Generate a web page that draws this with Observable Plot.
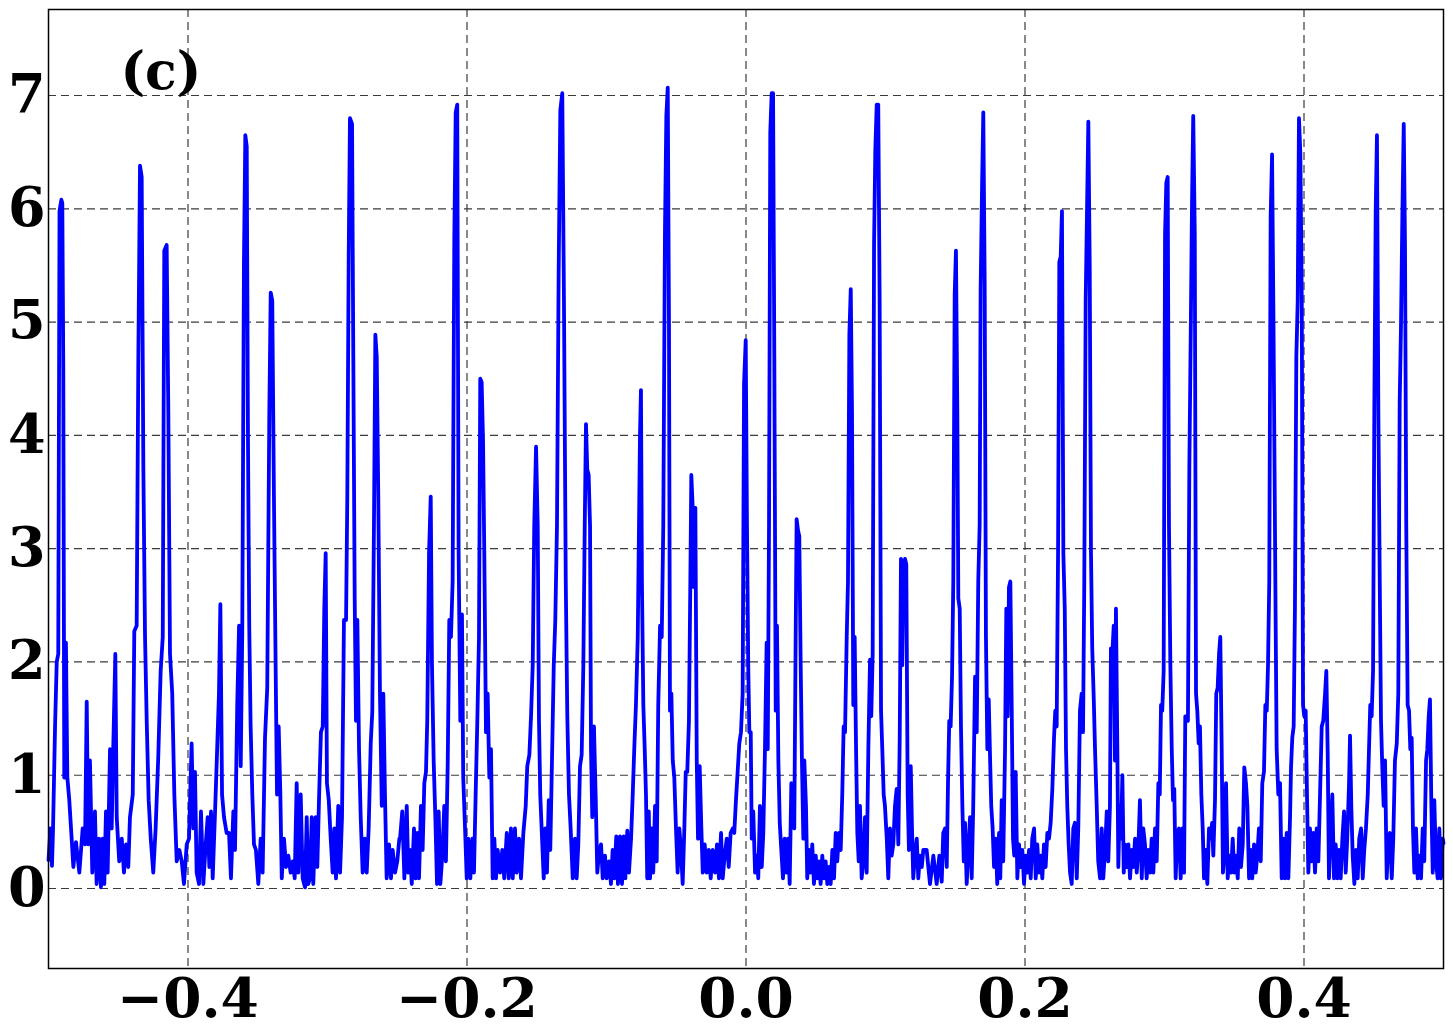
<!DOCTYPE html>
<html>
<head>
<meta charset="utf-8">
<script src="https://cdn.jsdelivr.net/npm/d3@7"></script>
<script src="https://cdn.jsdelivr.net/npm/@observablehq/plot@0.6"></script>
<style>
  html, body { margin: 0; padding: 0; background: #ffffff; }
  #chart { width: 1453px; height: 1027px; }
</style>
</head>
<body>
<div id="chart"></div>
<script>
// ---------- DATA ----------
const xTicks = [-0.4, -0.2, 0.0, 0.2, 0.4];
const yTicks = [0, 1, 2, 3, 4, 5, 6, 7];
const panelLabel = "(c)";

// signal samples [x, y], left to right
const segA = [
  [-0.5000,0.25],[-0.4986,0.53],[-0.4975,0.20],[-0.4968,0.50],[-0.4953,1.43],[-0.4941,2.00],[-0.4930,2.07],[-0.4921,5.98],[-0.4908,6.08],[-0.4901,6.05],
  [-0.4894,4.60],[-0.4887,0.98],[-0.4875,2.17],[-0.4865,0.98],[-0.4851,0.78],[-0.4834,0.44],[-0.4822,0.19],[-0.4803,0.41],[-0.4779,0.14],[-0.4755,0.53],
  [-0.4738,0.39],[-0.4726,1.65],[-0.4715,0.39],[-0.4703,1.13],[-0.4686,0.14],[-0.4667,0.68],[-0.4655,0.04],[-0.4638,0.44],[-0.4624,0.01],[-0.4612,0.44],
  [-0.4600,0.04],[-0.4588,0.68],[-0.4576,0.14],[-0.4559,1.23],[-0.4547,0.53],[-0.4536,1.23],[-0.4521,2.07],[-0.4511,0.63],[-0.4493,0.24],[-0.4475,0.44],
  [-0.4459,0.14],[-0.4444,0.39],[-0.4428,0.19],[-0.4416,0.63],[-0.4396,0.83],[-0.4385,2.27],[-0.4368,2.32],[-0.4356,4.69],[-0.4344,6.38],[-0.4332,6.28],
  [-0.4320,3.70],[-0.4308,2.22],[-0.4296,1.48],[-0.4282,0.78],[-0.4267,0.44],[-0.4249,0.14],[-0.4232,0.53],[-0.4213,1.17],[-0.4196,1.92],[-0.4181,2.22],
  [-0.4170,5.63],[-0.4153,5.68],[-0.4141,4.20],[-0.4129,2.07],[-0.4113,1.72],[-0.4098,0.83],[-0.4081,0.24],[-0.4062,0.34],[-0.4045,0.24],[-0.4029,0.04],
  [-0.4009,0.39],[-0.3993,0.44],[-0.3974,1.28],[-0.3962,0.53],[-0.3950,1.03],[-0.3938,0.14],[-0.3921,0.04],[-0.3907,0.68],[-0.3890,0.04],[-0.3873,0.39],
  [-0.3859,0.63],[-0.3847,0.19],[-0.3835,0.68],[-0.3823,0.09],[-0.3806,0.68],[-0.3794,1.12],[-0.3778,1.72],[-0.3768,2.51],[-0.3756,0.83],[-0.3742,0.63],
  [-0.3723,0.49]
];
const segB = [
  [-0.3706,0.49],[-0.3692,0.09],[-0.3675,0.68],[-0.3663,0.34],[-0.3647,1.62],[-0.3634,2.32],[-0.3622,1.08],[-0.3611,2.27],[-0.3599,5.53],[-0.3589,6.65],
  [-0.3579,6.55],[-0.3570,3.95],[-0.3561,2.32],[-0.3551,1.43],[-0.3539,0.83],[-0.3527,0.39],[-0.3513,0.34],[-0.3496,0.04],[-0.3479,0.44],[-0.3465,0.14],
  [-0.3448,1.33],[-0.3432,1.77],[-0.3417,4.20],[-0.3407,5.26],[-0.3396,5.19],[-0.3384,3.46],[-0.3371,1.87],[-0.3362,0.83],[-0.3350,1.43],[-0.3338,0.83],
  [-0.3328,0.09],[-0.3312,0.44],[-0.3297,0.19],[-0.3281,0.29],[-0.3264,0.14],[-0.3250,0.24],[-0.3235,0.09],[-0.3221,0.93],[-0.3209,0.14],[-0.3192,0.83],
  [-0.3178,0.09],[-0.3161,0.01],[-0.3149,0.63],[-0.3138,0.04],[-0.3125,0.09],[-0.3113,0.63],[-0.3102,0.04],[-0.3085,0.63],[-0.3073,0.19],[-0.3061,0.78],
  [-0.3047,1.38],[-0.3034,1.43],[-0.3023,2.47],[-0.3013,2.96],[-0.3004,0.93],[-0.2991,0.78],[-0.2977,0.44],[-0.2963,0.14],[-0.2951,0.53],[-0.2939,0.09],
  [-0.2923,0.73],[-0.2910,0.14],[-0.2896,0.63],[-0.2882,2.37],[-0.2867,2.37],[-0.2858,3.46],[-0.2848,5.58],[-0.2839,6.80],[-0.2824,6.75],[-0.2815,4.69],
  [-0.2805,2.56],[-0.2796,1.48],[-0.2786,2.37],[-0.2774,1.23],[-0.2762,0.63],[-0.2748,0.14],[-0.2733,0.44],[-0.2719,0.14],[-0.2705,0.53],[-0.2690,1.28],
  [-0.2679,1.56],[-0.2667,3.20],[-0.2657,4.89],[-0.2647,4.69],[-0.2636,3.46],[-0.2624,1.72],[-0.2611,0.73],[-0.2600,1.72],[-0.2588,0.83],[-0.2576,0.09],
  [-0.2559,0.39],[-0.2545,0.09],[-0.2533,0.34],[-0.2516,0.14],[-0.2500,0.24],[-0.2485,0.44]
];
const segC = [
  [-0.2480,0.44],[-0.2464,0.68],[-0.2449,0.09],[-0.2432,0.73],[-0.2421,0.14],[-0.2409,0.34],[-0.2396,0.04],[-0.2380,0.53],[-0.2368,0.09],[-0.2356,0.49],
  [-0.2344,0.09],[-0.2330,0.73],[-0.2318,0.34],[-0.2306,0.93],[-0.2294,1.03],[-0.2285,1.48],[-0.2272,2.96],[-0.2260,3.46],[-0.2251,1.97],[-0.2239,1.13],
  [-0.2227,0.63],[-0.2215,0.04],[-0.2203,0.68],[-0.2191,0.04],[-0.2177,0.29],[-0.2163,0.73],[-0.2151,0.24],[-0.2138,1.12],[-0.2127,2.37],[-0.2115,2.22],
  [-0.2103,2.71],[-0.2091,5.73],[-0.2081,6.85],[-0.2070,6.92],[-0.2060,2.96],[-0.2048,1.48],[-0.2036,2.42],[-0.2027,0.98],[-0.2014,0.53],[-0.2002,0.09],
  [-0.1991,0.44],[-0.1976,0.09],[-0.1962,0.44],[-0.1950,0.14],[-0.1938,0.83],[-0.1926,1.48],[-0.1914,2.22],[-0.1905,4.50],[-0.1895,4.47],[-0.1885,3.95],
  [-0.1876,2.96],[-0.1864,1.38],[-0.1852,1.72],[-0.1840,0.98],[-0.1828,1.23],[-0.1816,0.09],[-0.1804,0.44],[-0.1792,0.09],[-0.1780,0.34],[-0.1763,0.14],
  [-0.1747,0.34],[-0.1733,0.09],[-0.1715,0.49],[-0.1701,0.09],[-0.1685,0.53],[-0.1672,0.09],[-0.1656,0.53],[-0.1644,0.14],[-0.1627,0.44],[-0.1613,0.09],
  [-0.1596,0.49],[-0.1579,0.73],[-0.1568,1.08],[-0.1553,1.18],[-0.1541,1.52],[-0.1529,1.97],[-0.1518,3.20],[-0.1505,3.90],[-0.1493,3.20],[-0.1484,1.48],
  [-0.1475,0.83],[-0.1462,0.44],[-0.1450,0.09],[-0.1439,0.53],[-0.1427,0.14],[-0.1414,0.78],[-0.1403,0.34],[-0.1391,1.12],[-0.1378,1.97],[-0.1367,2.37],
  [-0.1355,3.20],[-0.1343,5.44],[-0.1331,6.87],[-0.1317,7.02],[-0.1305,5.19],[-0.1292,2.71],[-0.1281,1.52],[-0.1269,0.83],[-0.1257,0.53],[-0.1242,0.09]
];
const segD = [
  [-0.1226,0.44],[-0.1214,0.09],[-0.1202,0.39],[-0.1190,1.08],[-0.1178,1.18],[-0.1166,1.97],[-0.1156,3.20],[-0.1147,4.10],[-0.1138,3.70],[-0.1128,3.65],
  [-0.1118,3.20],[-0.1111,1.23],[-0.1102,0.63],[-0.1090,1.43],[-0.1077,0.78],[-0.1066,0.14],[-0.1052,0.34],[-0.1039,0.39],[-0.1027,0.09],[-0.1011,0.29],
  [-0.0999,0.09],[-0.0982,0.24],[-0.0968,0.04],[-0.0956,0.34],[-0.0944,0.09],[-0.0930,0.46],[-0.0918,0.04],[-0.0903,0.46],[-0.0889,0.04],[-0.0877,0.46],
  [-0.0865,0.09],[-0.0851,0.51],[-0.0839,0.14],[-0.0824,0.44],[-0.0812,0.83],[-0.0801,1.23],[-0.0789,1.62],[-0.0776,2.22],[-0.0767,3.20],[-0.0760,4.00],
  [-0.0753,4.40],[-0.0746,2.71],[-0.0736,1.62],[-0.0726,1.23],[-0.0717,0.83],[-0.0708,0.09],[-0.0697,0.68],[-0.0688,0.09],[-0.0676,0.53],[-0.0665,0.14],
  [-0.0652,0.73],[-0.0640,0.24],[-0.0629,1.62],[-0.0616,2.32],[-0.0604,2.22],[-0.0593,3.20],[-0.0581,5.78],[-0.0571,6.82],[-0.0561,7.07],[-0.0552,4.94],
  [-0.0545,1.57],[-0.0535,1.72],[-0.0525,1.13],[-0.0514,0.98],[-0.0502,0.53],[-0.0490,0.14],[-0.0478,0.53],[-0.0466,0.34],[-0.0454,0.04],[-0.0442,0.53],
  [-0.0432,1.03],[-0.0421,1.03],[-0.0409,1.48],[-0.0399,2.71],[-0.0392,3.65],[-0.0382,3.36],[-0.0373,2.66],[-0.0363,3.36],[-0.0353,1.13],[-0.0344,0.44],
  [-0.0332,1.08],[-0.0320,0.53],[-0.0310,0.14],[-0.0296,0.39],[-0.0282,0.14],[-0.0267,0.34],[-0.0253,0.09],[-0.0239,0.34],[-0.0222,0.14],[-0.0208,0.39],
  [-0.0194,0.09],[-0.0179,0.49],[-0.0167,0.09],[-0.0153,0.29],[-0.0138,0.44],[-0.0124,0.19],[-0.0110,0.49],[-0.0095,0.53],[-0.0084,0.49],[-0.0072,0.78],
  [-0.0060,1.03],[-0.0048,1.28],[-0.0036,1.38],[-0.0024,1.72],[-0.0014,4.45],[-0.0002,4.84],[0.0007,3.20],[0.0016,1.97]
];
const segE = [
  [0.0024,1.38],[0.0034,1.38],[0.0041,0.44],[0.0052,0.68],[0.0065,0.14],[0.0077,0.29],[0.0088,0.09],[0.0100,0.73],[0.0113,0.19],[0.0124,0.49],
  [0.0136,1.23],[0.0148,2.17],[0.0156,1.23],[0.0165,3.20],[0.0174,6.67],[0.0184,7.02],[0.0194,7.02],[0.0203,4.69],[0.0213,1.57],[0.0222,2.32],
  [0.0232,1.13],[0.0242,0.58],[0.0253,0.34],[0.0265,0.09],[0.0277,0.44],[0.0289,0.14],[0.0301,0.44],[0.0313,0.04],[0.0325,0.93],[0.0335,0.83],
  [0.0346,0.53],[0.0356,2.22],[0.0363,3.26],[0.0373,3.16],[0.0382,3.11],[0.0392,1.97],[0.0401,1.13],[0.0411,0.44],[0.0418,1.13],[0.0430,0.73],
  [0.0439,0.09],[0.0452,0.34],[0.0464,0.14],[0.0475,0.39],[0.0487,0.04],[0.0500,0.29],[0.0511,0.09],[0.0523,0.24],[0.0535,0.04],[0.0547,0.29],
  [0.0559,0.09],[0.0571,0.24],[0.0583,0.04],[0.0595,0.19],[0.0607,0.04],[0.0619,0.34],[0.0631,0.09],[0.0643,0.49],[0.0654,0.24],[0.0667,0.49],
  [0.0679,0.34],[0.0690,0.83],[0.0700,1.43],[0.0710,1.38],[0.0722,2.22],[0.0731,2.71],[0.0741,4.89],[0.0751,5.29],[0.0760,4.20],[0.0769,1.62],
  [0.0779,2.22],[0.0789,1.23],[0.0798,0.49],[0.0808,0.24],[0.0817,0.73],[0.0829,0.09],[0.0841,0.24],[0.0853,0.63],[0.0865,0.14],[0.0877,1.23],
  [0.0889,2.02],[0.0898,1.52],[0.0908,2.07],[0.0918,5.68],[0.0927,6.52],[0.0937,6.92],[0.0948,6.92],[0.0958,5.19],[0.0968,1.57],[0.0977,1.23],
  [0.0987,0.83],[0.0996,0.73],[0.1009,0.44],[0.1020,0.09],[0.1032,0.53],[0.1044,0.29],[0.1056,0.39],[0.1068,0.73],[0.1080,0.88],[0.1092,0.39],
  [0.1102,1.33],[0.1111,2.91],[0.1120,1.97],[0.1130,2.86],[0.1140,2.91],[0.1149,2.86],[0.1159,0.83],[0.1168,0.34],[0.1181,1.08],[0.1190,0.53],
  [0.1199,0.09],[0.1211,0.29],[0.1224,0.44],[0.1235,0.09],[0.1247,0.29],[0.1260,0.19],[0.1271,0.34]
];
const segF = [
  [0.1295,0.34],[0.1319,0.04],[0.1343,0.29],[0.1367,0.04],[0.1386,0.29],[0.1403,0.06],[0.1414,0.49],[0.1427,0.53],[0.1439,0.19],[0.1448,0.93],
  [0.1457,1.48],[0.1467,1.43],[0.1477,1.87],[0.1486,2.71],[0.1496,5.24],[0.1505,5.63],[0.1515,4.20],[0.1522,2.56],[0.1532,2.47],[0.1541,1.43],
  [0.1551,0.73],[0.1561,0.24],[0.1570,0.58],[0.1582,0.04],[0.1594,0.34],[0.1606,0.63],[0.1618,0.09],[0.1629,0.73],[0.1642,1.87],[0.1654,1.38],
  [0.1665,2.71],[0.1675,3.21],[0.1682,5.29],[0.1692,6.18],[0.1701,6.85],[0.1711,5.34],[0.1720,2.22],[0.1730,1.23],[0.1740,1.67],[0.1749,1.18],
  [0.1758,0.73],[0.1768,0.53],[0.1778,0.19],[0.1790,0.44],[0.1801,0.04],[0.1814,0.49],[0.1823,0.09],[0.1833,0.78],[0.1844,0.24],[0.1857,1.23],
  [0.1866,2.47],[0.1876,1.52],[0.1885,2.66],[0.1895,2.71],[0.1905,1.57],[0.1914,0.44],[0.1923,0.29],[0.1933,1.03],[0.1945,0.09],[0.1957,0.39],
  [0.1969,0.19],[0.1981,0.34],[0.1993,0.04],[0.2005,0.29],[0.2016,0.14],[0.2029,0.34],[0.2041,0.09],[0.2052,0.44],[0.2065,0.53],[0.2077,0.09],
  [0.2088,0.39],[0.2100,0.14],[0.2113,0.29],[0.2124,0.09],[0.2136,0.39],[0.2148,0.19],[0.2160,0.49],[0.2172,0.44],[0.2184,0.58],[0.2196,0.88],
  [0.2208,1.33],[0.2217,1.57],[0.2227,1.43],[0.2237,2.96],[0.2246,5.53],[0.2256,5.58],[0.2265,5.98],[0.2275,2.96],[0.2285,2.47],[0.2294,1.23],
  [0.2303,0.73],[0.2313,0.39],[0.2323,0.14],[0.2335,0.04],[0.2346,0.53],[0.2358,0.58],[0.2371,0.09],[0.2382,0.53],[0.2394,1.57],[0.2406,1.72],
  [0.2416,1.38],[0.2425,2.71],[0.2435,5.19],[0.2444,5.93],[0.2454,6.77],[0.2464,5.49],[0.2473,2.96],[0.2482,2.12],[0.2493,1.67],[0.2502,1.23],
  [0.2514,0.73],[0.2525,0.24],[0.2538,0.09]
];
const segG = [
  [0.2550,0.53],[0.2561,0.09],[0.2574,0.34],[0.2586,0.68],[0.2597,0.24],[0.2609,0.73],[0.2616,2.12],[0.2626,2.07],[0.2636,2.32],[0.2645,1.13],
  [0.2652,2.47],[0.2662,1.23],[0.2669,0.19],[0.2679,0.73],[0.2688,0.44],[0.2698,1.00],[0.2708,0.14],[0.2717,0.39],[0.2729,0.19],[0.2741,0.39],
  [0.2753,0.09],[0.2765,0.34],[0.2776,0.19],[0.2789,0.44],[0.2801,0.14],[0.2812,0.34],[0.2824,0.78],[0.2837,0.09],[0.2848,0.53],[0.2860,0.39],
  [0.2872,0.09],[0.2884,0.34],[0.2896,0.14],[0.2908,0.44],[0.2920,0.14],[0.2932,0.53],[0.2944,0.24],[0.2956,0.93],[0.2966,0.83],[0.2975,1.62],
  [0.2984,1.57],[0.2994,1.92],[0.3004,5.78],[0.3013,6.23],[0.3023,6.28],[0.3032,3.21],[0.3042,1.97],[0.3052,1.23],[0.3061,0.78],[0.3070,0.88],
  [0.3080,0.09],[0.3092,0.49],[0.3104,0.53],[0.3116,0.09],[0.3128,0.53],[0.3140,0.14],[0.3149,1.52],[0.3159,1.52],[0.3168,1.48],[0.3178,3.70],
  [0.3188,4.89],[0.3197,6.03],[0.3206,6.82],[0.3217,5.78],[0.3226,1.72],[0.3235,1.57],[0.3245,1.28],[0.3254,1.43],[0.3264,0.83],[0.3274,0.53],
  [0.3283,0.09],[0.3295,0.34],[0.3307,0.04],[0.3319,0.53],[0.3331,0.44],[0.3341,0.58],[0.3350,0.29],[0.3362,0.78],[0.3371,1.72],[0.3381,1.77],
  [0.3391,2.07],[0.3400,2.22],[0.3410,1.23],[0.3419,0.14],[0.3429,0.29],[0.3441,0.93],[0.3453,0.09],[0.3465,0.29],[0.3477,0.14],[0.3489,0.44],
  [0.3500,0.14],[0.3513,0.29],[0.3525,0.09],[0.3536,0.53],[0.3548,0.19],[0.3561,0.39],[0.3572,1.07],[0.3584,0.93],[0.3594,0.73],[0.3606,0.09],
  [0.3618,0.34],[0.3629,0.09],[0.3642,0.39],[0.3654,0.14],[0.3665,0.29],[0.3677,0.53],[0.3690,0.24],[0.3701,0.93],[0.3713,1.03],[0.3723,1.62],
  [0.3733,1.57],[0.3742,1.97],[0.3751,2.71],[0.3761,5.93],[0.3771,6.48]
];
const segH = [
  [0.3780,5.19],[0.3789,3.70],[0.3796,2.47],[0.3804,1.23],[0.3816,0.83],[0.3828,0.93],[0.3840,0.09],[0.3852,0.44],[0.3864,0.09],[0.3876,0.49],
  [0.3888,0.09],[0.3900,0.63],[0.3907,1.07],[0.3916,1.33],[0.3926,1.43],[0.3935,2.47],[0.3945,4.69],[0.3955,5.19],[0.3964,6.80],[0.3974,6.48],
  [0.3984,5.19],[0.3993,1.62],[0.4002,1.52],[0.4012,1.57],[0.4022,0.78],[0.4031,0.14],[0.4043,0.53],[0.4055,0.24],[0.4067,0.49],[0.4079,0.14],
  [0.4091,0.53],[0.4103,0.24],[0.4115,0.83],[0.4127,1.43],[0.4138,1.48],[0.4151,1.72],[0.4160,1.92],[0.4170,1.18],[0.4179,0.09],[0.4191,0.49],
  [0.4203,0.83],[0.4215,0.09],[0.4227,0.39],[0.4239,0.09],[0.4251,0.34],[0.4263,0.09],[0.4275,0.44],[0.4287,0.68],[0.4299,0.14],[0.4310,0.44],
  [0.4323,0.93],[0.4330,1.35],[0.4339,0.73],[0.4349,0.29],[0.4361,0.04],[0.4373,0.34],[0.4385,0.09],[0.4396,0.44],[0.4409,0.53],[0.4421,0.09],
  [0.4432,0.34],[0.4444,0.53],[0.4457,0.83],[0.4466,1.23],[0.4475,1.62],[0.4485,1.52],[0.4495,1.92],[0.4504,4.20],[0.4514,5.98],[0.4523,6.65],
  [0.4533,4.20],[0.4543,2.71],[0.4552,1.48],[0.4561,1.08],[0.4571,0.73],[0.4581,1.13],[0.4593,0.09],[0.4604,0.44],[0.4616,0.49],[0.4629,0.09],
  [0.4640,0.44],[0.4652,1.13],[0.4665,1.28],[0.4676,1.72],[0.4686,4.30],[0.4695,4.94],[0.4705,5.93],[0.4715,6.75],[0.4724,5.68],[0.4733,3.21],
  [0.4743,1.62],[0.4753,1.57],[0.4762,1.23],[0.4772,1.33],[0.4781,0.53],[0.4791,0.14],[0.4803,0.53],[0.4815,0.09],[0.4827,0.29],[0.4839,0.09],
  [0.4851,0.53],[0.4862,0.24],[0.4875,1.13],[0.4884,1.23],[0.4894,1.52],[0.4903,1.67],[0.4913,0.73],[0.4923,0.14],[0.4934,0.78],[0.4946,0.24],
  [0.4958,0.09],[0.4970,0.53],[0.4982,0.09],[0.4994,0.44],[0.5000,0.40]
];

const signal = [...segA, ...segB, ...segC, ...segD, ...segE, ...segF, ...segG, ...segH]
  .map(([x, y]) => ({x, y}));

// ---------- CHART ----------
const font = "'DejaVu Serif', 'Liberation Serif', serif";
const chart = Plot.plot({
  width: 1453,
  height: 1027,
  marginLeft: 48,
  marginRight: 10,
  marginTop: 9,
  marginBottom: 59,
  style: {fontFamily: font, background: "#ffffff", overflow: "visible"},
  x: {domain: [-0.5, 0.5]},
  y: {domain: [-0.706, 7.759]},
  marks: [
    Plot.gridX(xTicks, {stroke: "#3a3a3a", strokeOpacity: 1, strokeWidth: 1.2, strokeDasharray: "8,5"}),
    Plot.gridY(yTicks, {stroke: "#3a3a3a", strokeOpacity: 1, strokeWidth: 1.2, strokeDasharray: "8,5"}),
    Plot.line(signal, {x: "x", y: "y", stroke: "#0000ff", strokeWidth: 3.8, strokeLinejoin: "round"}),
    Plot.frame({stroke: "#000000", strokeWidth: 1.5}),
    Plot.axisX(xTicks, {tickSize: 0, tickPadding: 9, tickFormat: d3.format(".1f"),
      fontSize: 55, fontWeight: "bold", fill: "#000", label: null}),
    Plot.axisY(yTicks, {tickSize: 0, tickPadding: 3, tickFormat: d3.format("d"),
      fontSize: 54, fontWeight: "bold", fill: "#000", label: null}),
    Plot.text([panelLabel], {text: d => d, frameAnchor: "top-left", dx: 72, dy: 63,
      textAnchor: "start", lineAnchor: "middle", fontSize: 52, fontWeight: "bold", fill: "#000"})
  ]
});
document.getElementById("chart").appendChild(chart);
</script>
</body>
</html>
